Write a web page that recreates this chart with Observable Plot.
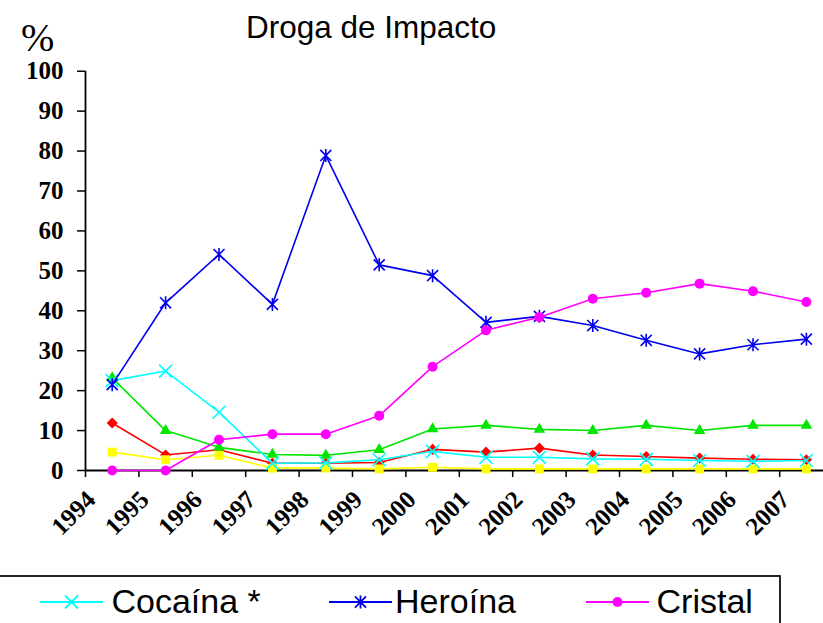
<!DOCTYPE html>
<html>
<head>
<meta charset="utf-8">
<script src="https://cdn.jsdelivr.net/npm/d3@7"></script>
<script src="https://cdn.jsdelivr.net/npm/@observablehq/plot@0.6"></script>
<style>
html, body { margin: 0; padding: 0; background: #fff; overflow: hidden; }
#wrap { position: relative; width: 823px; height: 623px; overflow: hidden; }
#chart { position: absolute; left: 0; top: 0; }
#overlay { position: absolute; left: 0; top: 0; }
</style>
</head>
<body>
<div id="wrap"><div id="chart"></div><svg id="overlay" width="823" height="623"></svg></div>
<script>
// ---- data ----
const years = [1994, 1995, 1996, 1997, 1998, 1999, 2000, 2001, 2002, 2003, 2004, 2005, 2006, 2007];
const yTicks = [0, 10, 20, 30, 40, 50, 60, 70, 80, 90, 100];
const cocaina   = [22.5, 24.9, 14.6, 1.8, 1.9, 2.7, 4.8, 3.3, 3.3, 2.9, 2.8, 2.5, 2.3, 2.5];
const heroina   = [21.5, 42.0, 54.1, 41.6, 78.9, 51.5, 48.8, 37.1, 38.6, 36.3, 32.6, 29.2, 31.5, 32.9];
const cristal   = [0, 0, 7.7, 9.1, 9.1, 13.7, 26.0, 35.1, 38.4, 43.0, 44.5, 46.8, 44.9, 42.2];
const marihuana = [23.2, 10.0, 5.8, 4.0, 3.8, 5.2, 10.4, 11.3, 10.3, 10.0, 11.3, 10.0, 11.3, 11.3];
const alcohol   = [11.9, 3.9, 5.2, 1.8, 1.8, 2.0, 5.3, 4.6, 5.6, 3.9, 3.5, 3.1, 2.8, 2.7];
const otras     = [4.6, 2.7, 3.8, 0.6, 0.6, 0.4, 0.8, 0.4, 0.4, 0.4, 0.4, 0.4, 0.4, 0.4];
const legendNames = ["Cocaína *", "Heroína", "Cristal"];
const title = "Droga de Impacto";
const yLabel = "%";

// custom Excel-like stroke symbols (half-extent = r)
const timesSym = {draw(ctx, size) { const r = Math.sqrt(size / Math.PI); ctx.moveTo(-r, -r); ctx.lineTo(r, r); ctx.moveTo(-r, r); ctx.lineTo(r, -r); }};
const starSym = {draw(ctx, size) { const r = Math.sqrt(size / Math.PI); const d = r * 0.85; ctx.moveTo(-d, -d); ctx.lineTo(d, d); ctx.moveTo(-d, d); ctx.lineTo(d, -d); ctx.moveTo(0, -r); ctx.lineTo(0, r); }};

const series = [
  {name: "Alcohol",   values: alcohol,   color: "#ff0000", symbol: "diamond2", r: 5,   filled: true},
  {name: "Marihuana", values: marihuana, color: "#00e600", symbol: "triangle", r: 4.3, filled: true},
  {name: "Otras",     values: otras,     color: "#ffff00", symbol: "square",   r: 5,   filled: true},
  {name: "Cocaína *", values: cocaina,   color: "#00ffff", symbol: timesSym,   r: 6.5, filled: false},
  {name: "Heroína",   values: heroina,   color: "#0000ee", symbol: starSym,    r: 6.5, filled: false},
  {name: "Cristal",   values: cristal,   color: "#ff00ff", symbol: "circle",   r: 5,   filled: true}
];

const boundaries = years.map(y => y - 0.5).concat([years[years.length - 1] + 0.5]);
const axisFont = {fontFamily: "'Liberation Serif', 'Times New Roman', serif", fontSize: 25, fontWeight: "bold"};

const marks = [
  Plot.axisY({ticks: yTicks, tickSize: 8, tickPadding: 14, strokeWidth: 1.5, label: null, tickFormat: d => String(d), ...axisFont}),
  Plot.axisX({ticks: boundaries, tickSize: 7, strokeWidth: 1.5, tickFormat: () => "", label: null}),
  Plot.axisX({ticks: years, tickSize: 0, tickPadding: 9, tickRotate: -45, dx: -21, dy: 16, label: null, tickFormat: d => String(d), ...axisFont}),
  Plot.ruleX([boundaries[0]], {y1: 0, y2: 100, strokeWidth: 1.8, stroke: "#000"}),
  Plot.ruleY([0], {strokeWidth: 1.8, stroke: "#000"})
];
for (const s of series) {
  const rows = years.map((yr, i) => ({year: yr, value: s.values[i]}));
  marks.push(Plot.line(rows, {x: "year", y: "value", stroke: s.color, strokeWidth: 1.6}));
  marks.push(Plot.dot(rows, s.filled
    ? {x: "year", y: "value", symbol: s.symbol, r: s.r, fill: s.color, stroke: "none"}
    : {x: "year", y: "value", symbol: s.symbol, r: s.r, fill: "none", stroke: s.color, strokeWidth: 1.6}));
}

const chart = Plot.plot({
  width: 823,
  height: 560,
  marginLeft: 85,
  marginRight: -9.6,
  marginTop: 70.7,
  marginBottom: 90,
  x: {type: "linear", domain: [boundaries[0], boundaries[boundaries.length - 1]]},
  y: {domain: [0, 100]},
  style: {fontFamily: "'Liberation Serif', 'Times New Roman', serif", fontSize: "25px", fontWeight: "bold", color: "#000", background: "#fff", overflow: "hidden"},
  marks
});
document.getElementById("chart").appendChild(chart);

// ---- title, % label and legend (outside the SVG plot) ----
const ov = d3.select("#overlay");
ov.append("text").attr("x", 246).attr("y", 38)
  .attr("font-family", "'Liberation Sans', Arial, sans-serif").attr("font-size", 31.5).text(title);
ov.append("text").attr("x", 21).attr("y", 51)
  .attr("font-family", "'Liberation Serif', 'Times New Roman', serif").attr("font-size", 40).text(yLabel);

ov.append("rect").attr("x", -5).attr("y", 576).attr("width", 785).attr("height", 100)
  .attr("fill", "#fff").attr("stroke", "#000").attr("stroke-width", 1.7);
const legendPos = [{x0: 40, tx: 111.5}, {x0: 329, tx: 395}, {x0: 586, tx: 656.5}];
legendNames.forEach((name, i) => {
  const s = series.find(d => d.name === name);
  const p = legendPos[i];
  const cy = 602;
  ov.append("line").attr("x1", p.x0).attr("x2", p.x0 + 63).attr("y1", cy).attr("y2", cy)
    .attr("stroke", s.color).attr("stroke-width", 1.8);
  const sym = d3.symbol(typeof s.symbol === "string" ? (s.symbol === "circle" ? d3.symbolCircle : d3.symbolSquare) : s.symbol, Math.PI * s.r * s.r);
  const path = ov.append("path").attr("d", sym()).attr("transform", `translate(${p.x0 + 31.5},${cy})`);
  if (s.filled) path.attr("fill", s.color); else path.attr("fill", "none").attr("stroke", s.color).attr("stroke-width", 1.8);
  ov.append("text").attr("x", p.tx).attr("y", 613)
    .attr("font-family", "'Liberation Sans', Arial, sans-serif").attr("font-size", 34).text(name);
});
</script>
</body>
</html>
